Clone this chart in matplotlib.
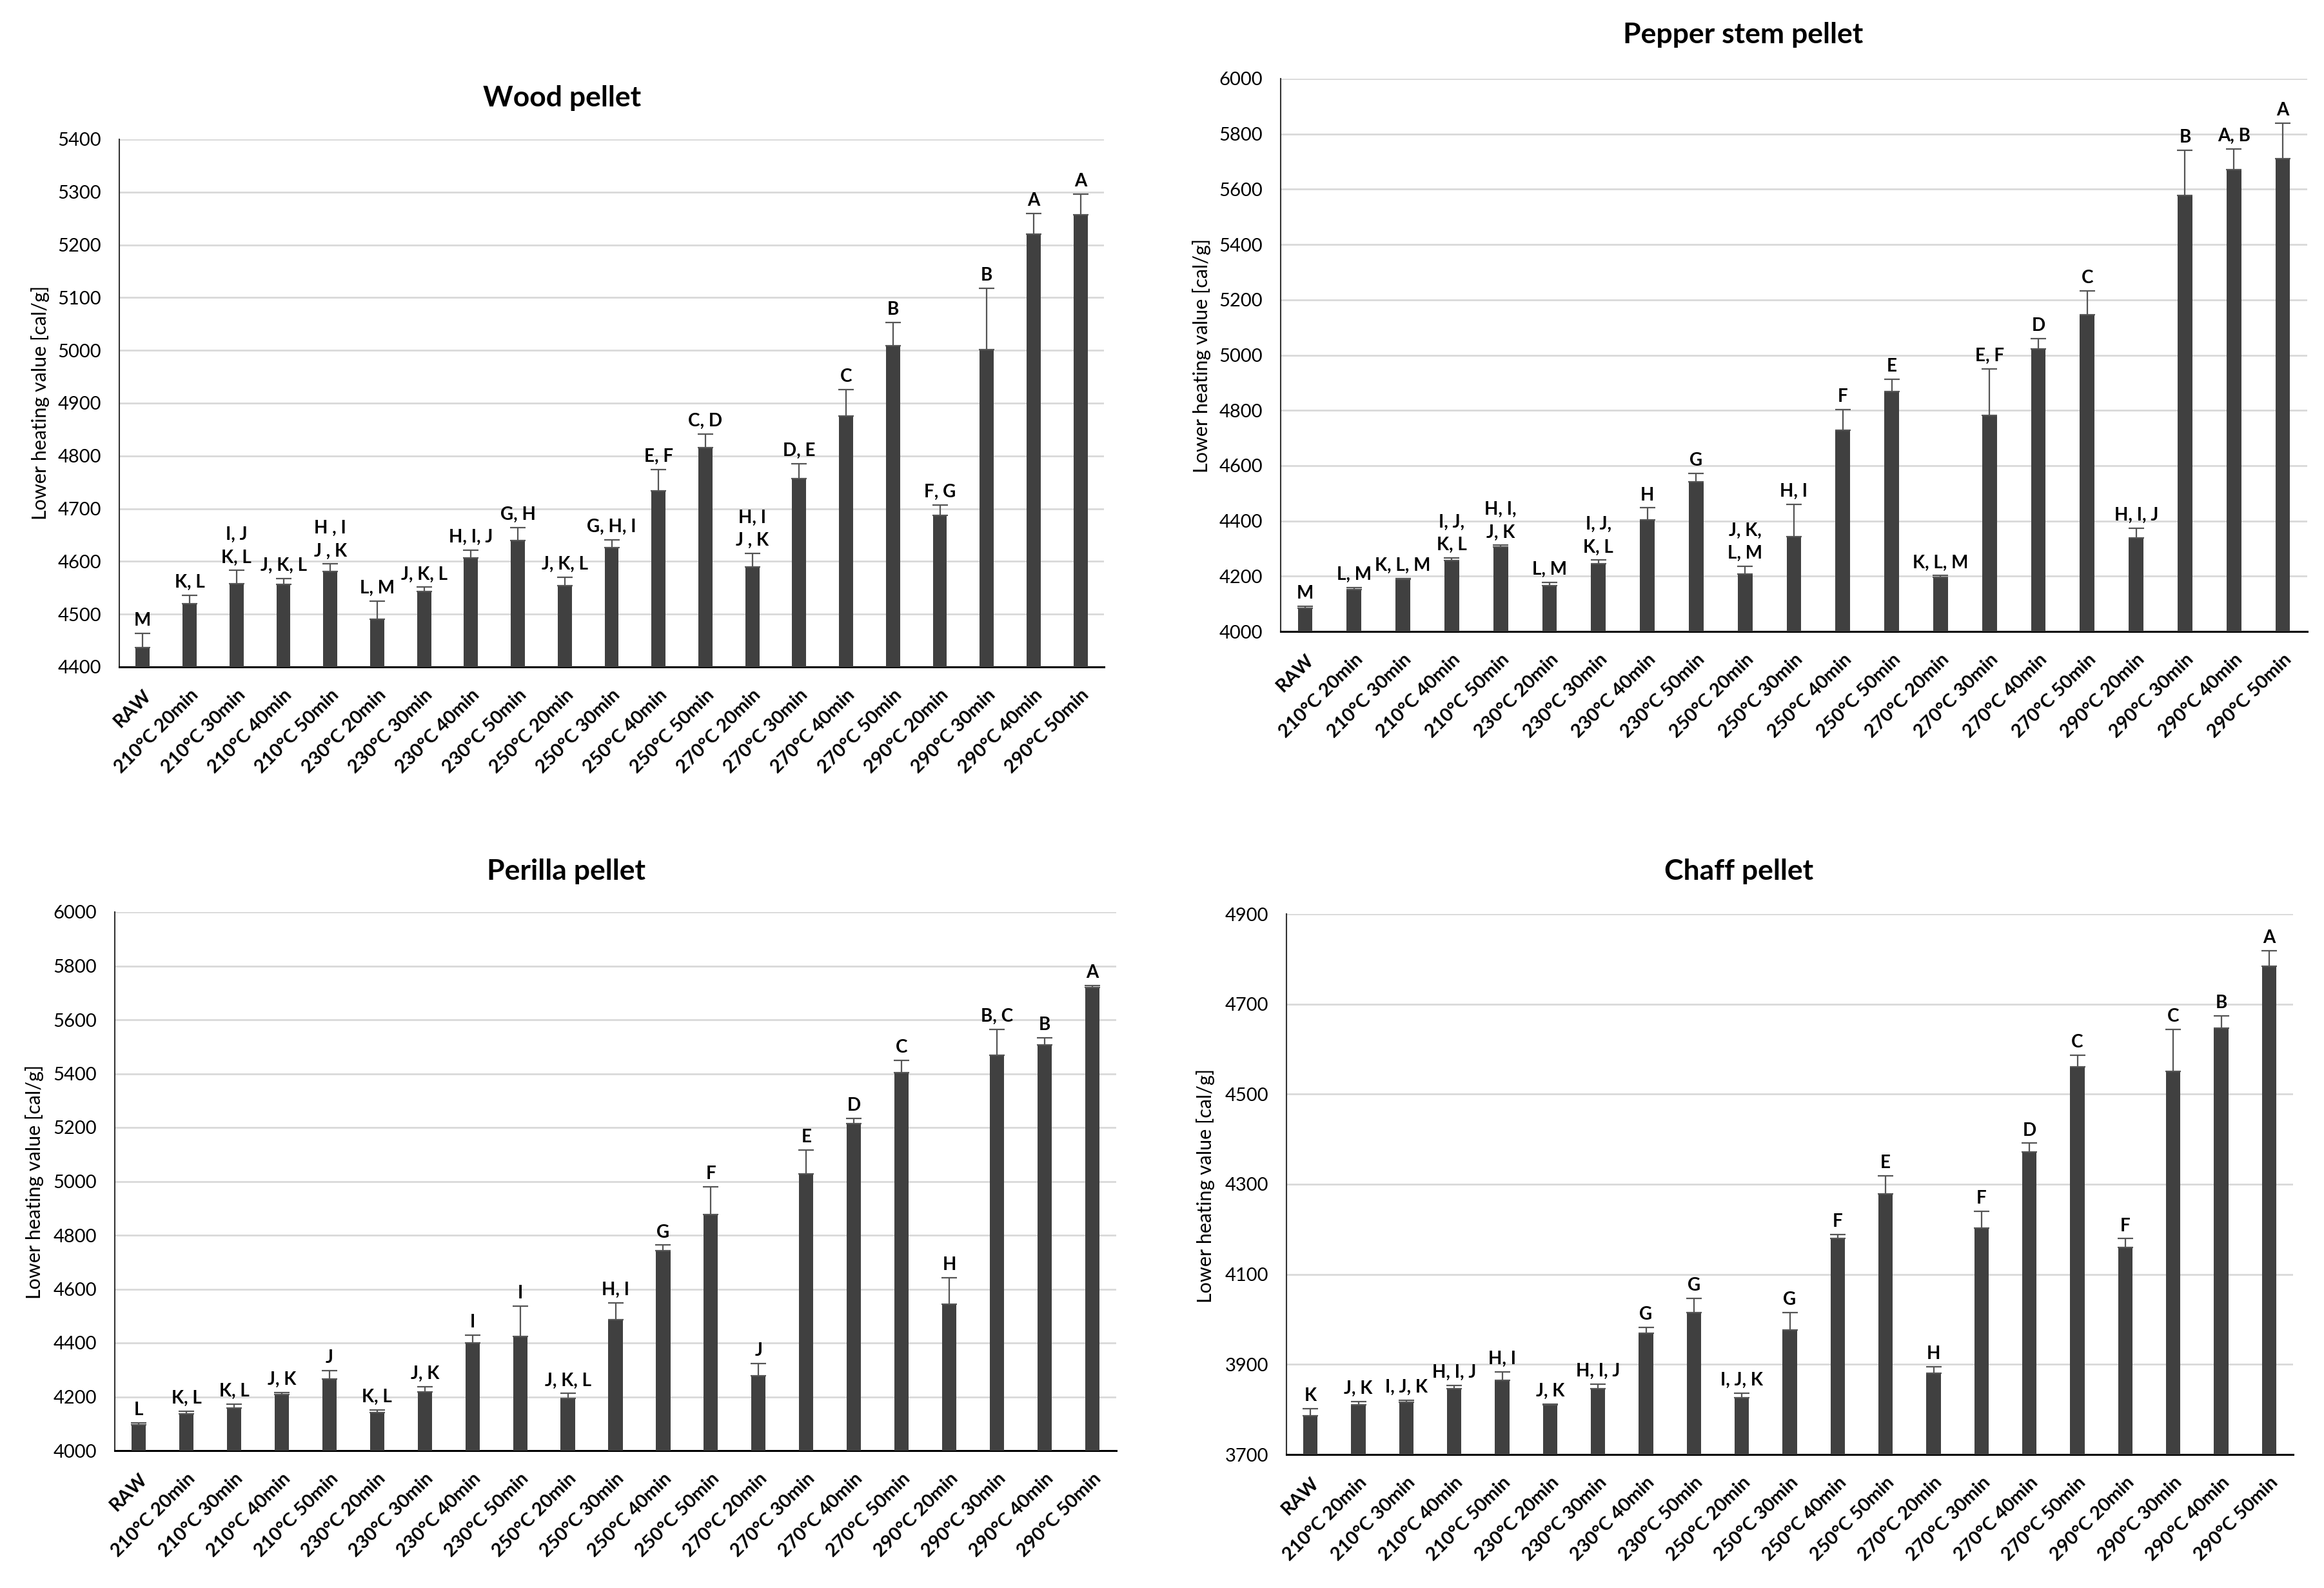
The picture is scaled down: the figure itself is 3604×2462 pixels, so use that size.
import matplotlib
matplotlib.use("Agg")
import matplotlib.pyplot as plt
import numpy as np

plt.rcParams['font.family'] = ['Lato', 'DejaVu Sans']

categories = ["RAW",
              "210°C 20min", "210°C 30min", "210°C 40min", "210°C 50min",
              "230°C 20min", "230°C 30min", "230°C 40min", "230°C 50min",
              "250°C 20min", "250°C 30min", "250°C 40min", "250°C 50min",
              "270°C 20min", "270°C 30min", "270°C 40min", "270°C 50min",
              "290°C 20min", "290°C 30min", "290°C 40min", "290°C 50min"]

# Wood pellet
wood_vals = [4437, 4520, 4558, 4556, 4581, 4491, 4543, 4606, 4639, 4554, 4626,
             4734, 4816, 4590, 4757, 4875, 5009, 4687, 5001, 5220, 5257]
wood_err = [27, 16, 25, 12, 14, 34, 8, 15, 25, 16, 15,
            40, 25, 25, 28, 51, 44, 20, 117, 40, 39]
wood_letters = ["M", "K, L", "I, J\nK, L", "J, K, L", "H , I\nJ , K", "L, M", "J, K, L",
                "H, I, J", "G, H", "J, K, L", "G, H, I", "E, F", "C, D", "H, I\nJ , K",
                "D, E", "C", "B", "F, G", "B", "A", "A"]

# Pepper stem pellet
pepper_vals = [4083, 4151, 4189, 4256, 4305, 4166, 4245, 4403, 4542, 4207, 4343,
               4728, 4868, 4197, 4781, 5023, 5147, 4338, 5578, 5672, 5710]
pepper_err = [8, 7, 3, 10, 7, 11, 13, 44, 30, 28, 117,
              75, 44, 5, 169, 36, 86, 36, 163, 74, 130]
pepper_letters = ["M", "L, M", "K, L, M", "I, J,\nK, L", "H, I,\nJ, K", "L, M", "I, J,\nK, L",
                  "H", "G", "J, K,\nL, M", "H, I", "F", "E", "K, L, M", "E, F", "D", "C",
                  "H, I, J", "B", "A, B", "A"]

# Perilla pellet
perilla_vals = [4097, 4137, 4158, 4209, 4266, 4141, 4218, 4401, 4425, 4193, 4487,
                4743, 4876, 4278, 5027, 5214, 5404, 4543, 5469, 5507, 5719]
perilla_err = [7, 10, 15, 7, 32, 11, 20, 27, 112, 19, 62,
               20, 103, 46, 90, 20, 45, 99, 95, 26, 8]
perilla_letters = ["L", "K, L", "K, L", "J, K", "J", "K, L", "J, K", "I", "I", "J, K, L",
                   "H, I", "G", "F", "J", "E", "D", "C", "H", "B, C", "B", "A"]

# Chaff pellet
chaff_vals = [3786, 3810, 3816, 3846, 3865, 3810, 3846, 3969, 4015, 3826, 3976,
              4180, 4278, 3880, 4203, 4372, 4561, 4159, 4550, 4647, 4784]
chaff_err = [16, 7, 4, 7, 18, 2, 10, 13, 31, 10, 39,
             9, 40, 15, 37, 19, 26, 20, 94, 27, 34]
chaff_letters = ["K", "J, K", "I, J, K", "H, I, J", "H, I", "J, K", "H, I, J", "G", "G",
                 "I, J, K", "G", "F", "E", "H", "F", "D", "C", "F", "C", "B", "A"]

W, H = 3604, 2462
fig = plt.figure(figsize=(W / 100, H / 100), dpi=100)

BAR = '#404040'
ERR = '#555555'
GRID = '#d9d9d9'


def panel(rect, title, title_xy, ylab_xy, vals, errs, letters, ymin, ymax, step):
    # rect = (left, top, right, bottom) in pixels
    ax = fig.add_axes([rect[0] / W, 1 - rect[3] / H, (rect[2] - rect[0]) / W, (rect[3] - rect[1]) / H])
    x = np.arange(len(categories))
    ax.bar(x, vals, width=0.3, color=BAR, zorder=3)
    ax.errorbar(x, vals, yerr=[np.zeros(len(errs)), errs], fmt='none', ecolor=ERR,
                elinewidth=1.6, capsize=8.5, capthick=1.6, zorder=4)
    for xi, v, e, t in zip(x, vals, errs, letters):
        ax.annotate(t, (xi, v + e), xytext=(0, 5), textcoords='offset points',
                    ha='center', va='bottom', fontsize=20, fontweight='bold',
                    linespacing=1.45, zorder=5)
    ax.set_xlim(-0.5, len(categories) - 0.5)
    ax.set_ylim(ymin, ymax)
    ax.set_yticks(np.arange(ymin, ymax + 1, step))
    ax.yaxis.grid(True, color=GRID, linewidth=2, zorder=0)
    ax.set_axisbelow(True)
    for s in ['top', 'right']:
        ax.spines[s].set_visible(False)
    ax.spines['left'].set_linewidth(1.5)
    ax.spines['left'].set_color('#333333')
    ax.spines['bottom'].set_linewidth(2.2)
    ax.set_xticks(x)
    ax.set_xticklabels(categories, rotation=45, ha='right', rotation_mode='anchor',
                       fontsize=21, fontweight='bold')
    ax.tick_params(axis='x', length=0, pad=22)
    ax.tick_params(axis='y', length=0, pad=20, labelsize=21)
    fig.text(title_xy[0] / W, 1 - title_xy[1] / H, title, ha='center', va='center',
             fontsize=32, fontweight='bold')
    fig.text(ylab_xy[0] / W, 1 - ylab_xy[1] / H, "Lower heating value [cal/g]",
             rotation=90, ha='center', va='center', fontsize=22)
    return ax


panel((185, 216, 1712, 1034), "Wood pellet", (872, 152), (63, 624),
      wood_vals, wood_err, wood_letters, 4400, 5400, 100)
panel((1986, 122, 3578, 979), "Pepper stem pellet", (2703, 54), (1863, 551),
      pepper_vals, pepper_err, pepper_letters, 4000, 6000, 200)
panel((178, 1414, 1731, 2249), "Perilla pellet", (878, 1351), (54, 1832),
      perilla_vals, perilla_err, perilla_letters, 4000, 6000, 200)
panel((1995, 1417, 3556, 2255), "Chaff pellet", (2697, 1351), (1869, 1838),
      chaff_vals, chaff_err, chaff_letters, 3700, 4900, 200)

fig.savefig("out.png", dpi=100, facecolor='white')
